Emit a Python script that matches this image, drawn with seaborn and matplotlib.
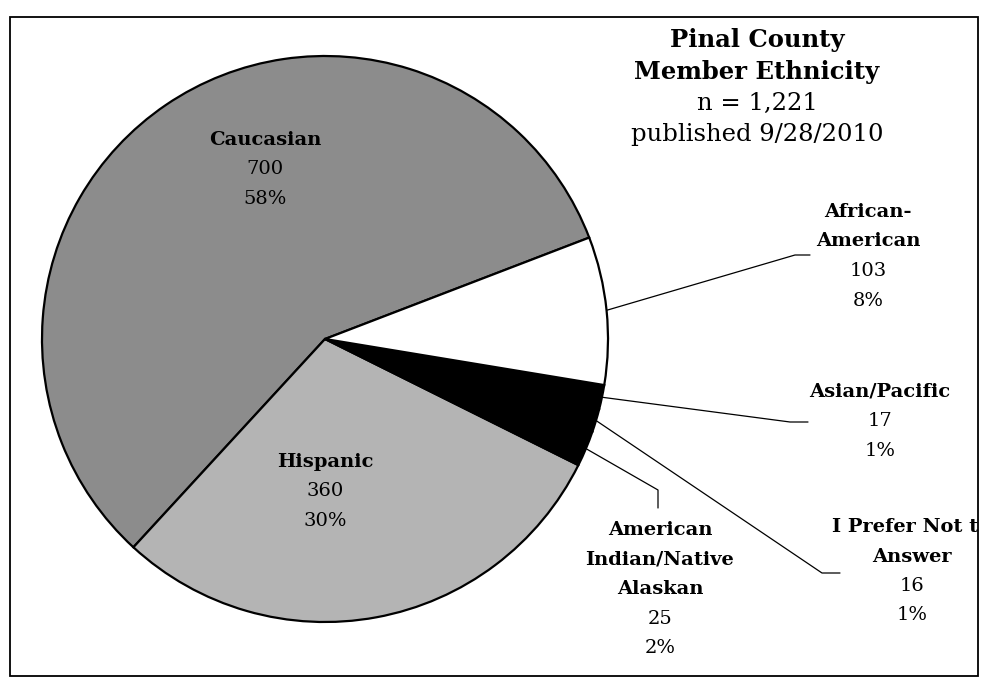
import numpy as np
import matplotlib
matplotlib.use('Agg')
import matplotlib.pyplot as plt
import seaborn as sns
from matplotlib.patches import Rectangle

sns.set_style("white")
plt.rcParams['font.family'] = ['DejaVu Serif', 'Liberation Serif']

# ── data (drawing order: counter-clockwise on screen from the upper right) ──
categories = ["Caucasian", "Hispanic", "American\nIndian/Native\nAlaskan",
              "I Prefer Not to\nAnswer", "Asian/Pacific", "African-\nAmerican"]
counts = [700, 360, 25, 16, 17, 103]
pct_labels = ["58%", "30%", "2%", "1%", "1%", "8%"]
title_lines = ["Pinal County", "Member Ethnicity", "n = 1,221", "published 9/28/2010"]

# ── layout (pixel coordinates, y downward) ──
W, H = 990, 683
cx, cy, rad = 325, 339, 283
slice_colors = ["#8c8c8c", "#b4b4b4", "#000000", "#000000", "#000000", "#ffffff"]
label_pos = [(265, 140), (325, 462), (660, 530), (912, 527), (880, 392), (868, 212)]
elbows = [None, None,
          [(658, 490), (658, 508)],
          [(822, 573), (840, 573)],
          [(790, 422), (808, 422)],
          [(795, 255), (810, 255)]]
step = 29.5

fig = plt.figure(figsize=(9.9, 6.83), dpi=100)
ax = fig.add_axes([0, 0, 1, 1])

wedges, _ = ax.pie(counts, colors=slice_colors, startangle=-21, counterclock=False,
                   center=(cx, cy), radius=rad,
                   wedgeprops=dict(edgecolor='black', linewidth=1.6))
ax.set_xlim(0, W)
ax.set_ylim(H, 0)
ax.set_aspect('equal')
ax.axis('off')

frame = Rectangle((10, 17), 968, 659, fill=False, edgecolor='black', linewidth=1.3)
ax.add_patch(frame)

# leader lines
for w, el in zip(wedges, elbows):
    if el is None:
        continue
    mid = np.deg2rad((w.theta1 + w.theta2) / 2)
    x0, y0 = cx + rad * np.cos(mid), cy + rad * np.sin(mid)
    xs = [x0] + [p[0] for p in el]
    ys = [y0] + [p[1] for p in el]
    ax.plot(xs, ys, color='black', linewidth=0.9)

# data labels (clipped to the chart frame, like the original)
for name, n, pct, (lx, ly) in zip(categories, counts, pct_labels, label_pos):
    lines = name.split("\n")
    rows = [(t, 'bold') for t in lines] + [(f"{n}", 'normal'), (pct, 'normal')]
    for i, (t, wt) in enumerate(rows):
        txt = ax.text(lx, ly + i * step, t, ha='center', va='center',
                      fontsize=14, fontweight=wt, color='black', clip_on=True)
        txt.set_clip_path(frame)

# title
for i, t in enumerate(title_lines):
    ax.text(757, 40 + i * 31.5, t, ha='center', va='center',
            fontsize=17.5, fontweight='bold' if i < 2 else 'normal', color='black')

fig.savefig('out.png', dpi=100)
